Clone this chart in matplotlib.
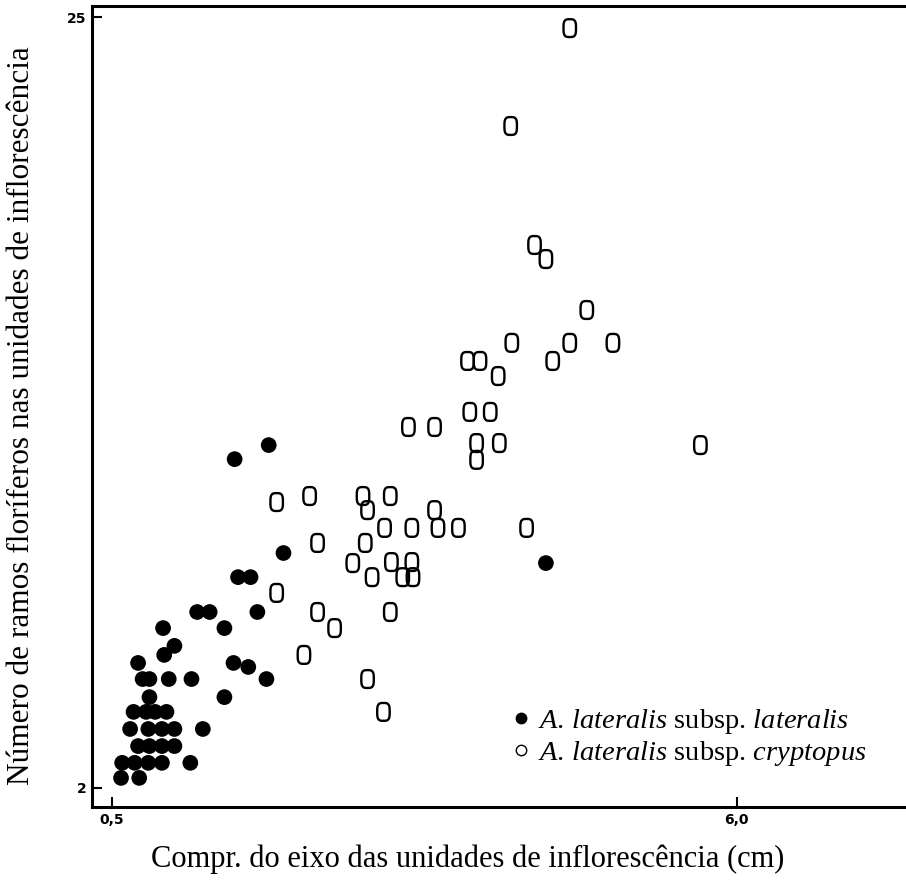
import numpy as np
import matplotlib
matplotlib.use("Agg")
import matplotlib.pyplot as plt
from matplotlib.path import Path
from matplotlib.lines import Line2D

plt.rcParams['mathtext.fontset'] = 'custom'
plt.rcParams['mathtext.rm'] = 'Liberation Serif'
plt.rcParams['mathtext.it'] = 'Liberation Serif:italic'

# --- dados ---
# A. lateralis subsp. lateralis (círculos cheios)
lat_x = [1.58, 1.88, 2.01, 1.61, 1.72, 4.32, 1.25, 1.36, 1.78, 1.49, 0.95,
         1.05, 0.96, 0.73, 1.57, 1.70, 1.86, 0.77, 0.83, 1.00, 1.20,
         0.83, 1.49, 0.69, 0.80, 0.88, 0.98,
         0.66, 0.82, 0.94, 1.05, 1.30,
         0.73, 0.83, 0.94, 1.05,
         0.59, 0.70, 0.82, 0.94, 1.19,
         0.58, 0.74]
lat_y = [11.81, 12.23, 9.01, 8.29, 8.29, 8.71, 7.25, 7.25, 7.25, 6.77, 6.77,
         6.24, 5.97, 5.73, 5.73, 5.61, 5.25, 5.25, 5.25, 5.25, 5.25,
         4.71, 4.71, 4.27, 4.27, 4.27, 4.27,
         3.76, 3.76, 3.76, 3.76, 3.76,
         3.25, 3.25, 3.25, 3.25,
         2.75, 2.75, 2.75, 2.75, 2.75,
         2.30, 2.30]

# A. lateralis subsp. cryptopus (marcadores abertos)
cry_x = [4.53, 4.01, 4.22, 4.32, 4.68, 4.02, 4.53, 4.91, 3.63, 3.74, 4.38,
         3.90, 3.65, 3.83, 3.11, 3.34, 3.71, 3.91, 3.71, 5.68,
         1.95, 2.24, 2.71, 2.75, 2.95, 3.34, 2.90, 3.14, 3.37, 3.55, 4.15,
         2.31, 2.73, 2.62, 2.96, 3.14, 2.79, 3.06, 3.15,
         1.95, 2.31, 2.95, 2.46, 2.19, 2.75, 2.89]
cry_y = [24.67, 21.75, 18.20, 17.78, 16.26, 15.28, 15.28, 15.28, 14.74, 14.74, 14.74,
         14.29, 13.22, 13.22, 12.77, 12.77, 12.29, 12.29, 11.79, 12.23,
         10.53, 10.71, 10.71, 10.29, 10.71, 10.29, 9.76, 9.76, 9.76, 9.76, 9.76,
         9.31, 9.31, 8.71, 8.74, 8.74, 8.29, 8.29, 8.29,
         7.82, 7.25, 7.25, 6.77, 5.97, 5.25, 4.27]

x_ticks = [0.5, 6.0]
x_ticklabels = ['0,5', '6,0']
y_ticks = [2, 25]
y_ticklabels = ['2', '25']

# marcador em forma de "0" (retângulo arredondado)
t = np.linspace(0, 2 * np.pi, 80)
c, s = np.cos(t), np.sin(t)
zero_verts = np.column_stack([0.70 * np.sign(c) * np.abs(c) ** 0.6,
                              np.sign(s) * np.abs(s) ** 0.6])
zero_marker = Path(zero_verts, closed=True)

fig = plt.figure(figsize=(9.06, 8.83), dpi=100)
ax = fig.add_axes([0.1015, 0.0861, 0.8985, 0.9071])

ax.scatter(cry_x, cry_y, s=165, marker=zero_marker, facecolors='none',
           edgecolors='black', linewidths=1.7, zorder=3)
ax.scatter(lat_x, lat_y, s=128, marker='o', color='black',
           edgecolors='none', zorder=4)

ax.set_xlim(0.324, 7.49)
ax.set_ylim(1.433, 25.33)

ax.set_xticks(x_ticks)
ax.set_xticklabels(x_ticklabels)
ax.set_yticks(y_ticks)
ax.set_yticklabels(y_ticklabels)
ax.tick_params(direction='in', length=7, width=1.5, labelsize=10, pad=4)
for lbl in ax.get_xticklabels() + ax.get_yticklabels():
    lbl.set_fontweight('semibold')

for side in ['left', 'top', 'bottom']:
    ax.spines[side].set_linewidth(2.2)
ax.spines['right'].set_visible(False)

ax.set_xlabel('Compr. do eixo das unidades de inflorescência (cm)',
              family='Liberation Serif', fontsize=22)
ax.xaxis.set_label_coords(0.462, -0.047)
ax.set_ylabel('Número de ramos floríferos nas unidades de inflorescência',
              family='Liberation Serif', fontsize=22.5)
ax.yaxis.set_label_coords(-0.069, 0.489)

handles = [
    Line2D([], [], marker='o', linestyle='none', color='black', markersize=7.5),
    Line2D([], [], marker='o', linestyle='none', markerfacecolor='white',
           markeredgecolor='black', markeredgewidth=1, markersize=7.5),
]
labels = [r'$\it{A.\,lateralis}$ subsp. $\it{lateralis}$',
          r'$\it{A.\,lateralis}$ subsp. $\it{cryptopus}$']
ax.legend(handles, labels, loc='lower right', bbox_to_anchor=(0.983, 0.017),
          frameon=False, prop={'family': 'Liberation Serif', 'size': 20.5},
          handletextpad=0.15, handlelength=0.9, labelspacing=0.1)

fig.savefig('out.png', dpi=100)
